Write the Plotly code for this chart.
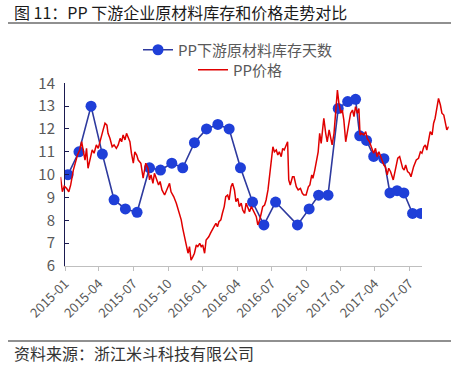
import plotly.graph_objects as go

# ---------------- data ----------------
inv_dates = ["2015-01-09", "2015-02-07", "2015-03-11", "2015-04-10", "2015-05-11", "2015-06-10",
             "2015-07-11", "2015-08-13", "2015-09-11", "2015-10-11", "2015-11-09", "2015-12-10",
             "2016-01-11", "2016-02-10", "2016-03-11", "2016-04-10", "2016-05-12", "2016-06-11",
             "2016-07-12", "2016-09-08", "2016-10-09", "2016-11-03", "2016-11-28", "2016-12-25",
             "2017-01-19", "2017-02-09", "2017-02-20", "2017-03-10", "2017-03-29", "2017-04-25",
             "2017-05-11", "2017-05-30", "2017-06-17", "2017-07-10", "2017-08-01"]
inv_days = [10.0, 11.0, 13.0, 10.9, 8.9, 8.5, 8.35, 10.3, 10.2, 10.5, 10.3, 11.4,
            12.0, 12.2, 12.0, 10.3, 8.8, 7.8, 8.8, 7.8, 8.5, 9.1, 9.1, 12.9,
            13.2, 13.3, 11.7, 11.5, 10.8, 10.7, 9.2, 9.3, 9.2, 8.3, 8.3]

price_dates = [
    "2014-12-20", "2014-12-25", "2014-12-30", "2015-01-05", "2015-01-11", "2015-01-16", "2015-01-23",
    "2015-01-29", "2015-02-03", "2015-02-09", "2015-02-14", "2015-02-18", "2015-02-23", "2015-02-27",
    "2015-03-03", "2015-03-10", "2015-03-14", "2015-03-19", "2015-03-25", "2015-03-30", "2015-04-03",
    "2015-04-08", "2015-04-12", "2015-04-17", "2015-04-22", "2015-04-25", "2015-04-30", "2015-05-06",
    "2015-05-11", "2015-05-17", "2015-05-22", "2015-05-27", "2015-05-31", "2015-06-04", "2015-06-09",
    "2015-06-13", "2015-06-17", "2015-06-22", "2015-06-26", "2015-07-01", "2015-07-05", "2015-07-10",
    "2015-07-14", "2015-07-21", "2015-07-27", "2015-08-03", "2015-08-09", "2015-08-13", "2015-08-17",
    "2015-08-22", "2015-08-26", "2015-09-01", "2015-09-06", "2015-09-10", "2015-09-15", "2015-09-22",
    "2015-09-26", "2015-10-01", "2015-10-05", "2015-10-09", "2015-10-16", "2015-10-23", "2015-10-30",
    "2015-11-05", "2015-11-09", "2015-11-14", "2015-11-18", "2015-11-23", "2015-11-27", "2015-12-01",
    "2015-12-06", "2015-12-10", "2015-12-15", "2015-12-19", "2015-12-24", "2015-12-28", "2016-01-01",
    "2016-01-06", "2016-01-10", "2016-01-17", "2016-01-22", "2016-01-28", "2016-01-31", "2016-02-05",
    "2016-02-09", "2016-02-13", "2016-02-18", "2016-02-22", "2016-02-27", "2016-03-02", "2016-03-07",
    "2016-03-11", "2016-03-16", "2016-03-20", "2016-03-25", "2016-03-29", "2016-04-03", "2016-04-07",
    "2016-04-12", "2016-04-16", "2016-04-21", "2016-04-25", "2016-04-30", "2016-05-04", "2016-05-09",
    "2016-05-13", "2016-05-17", "2016-05-22", "2016-05-26", "2016-05-31", "2016-06-04", "2016-06-08",
    "2016-06-13", "2016-06-17", "2016-06-22", "2016-06-26", "2016-06-30", "2016-07-05", "2016-07-09",
    "2016-07-14", "2016-07-18", "2016-07-22", "2016-07-27", "2016-07-31", "2016-08-04", "2016-08-09",
    "2016-08-13", "2016-08-16", "2016-08-20", "2016-08-26", "2016-08-30", "2016-09-05", "2016-09-10",
    "2016-09-16", "2016-09-21", "2016-09-25", "2016-10-01", "2016-10-07", "2016-10-11", "2016-10-16",
    "2016-10-19", "2016-10-24", "2016-10-29", "2016-11-02", "2016-11-06", "2016-11-10", "2016-11-15",
    "2016-11-17", "2016-11-22", "2016-11-26", "2016-12-01", "2016-12-05", "2016-12-09", "2016-12-14",
    "2016-12-18", "2016-12-23", "2016-12-27", "2017-01-01", "2017-01-05", "2017-01-09", "2017-01-14",
    "2017-01-18", "2017-01-23", "2017-01-27", "2017-02-01", "2017-02-05", "2017-02-09", "2017-02-14",
    "2017-02-18", "2017-02-21", "2017-02-25", "2017-03-03", "2017-03-08", "2017-03-12", "2017-03-18",
    "2017-03-24", "2017-03-29", "2017-04-03", "2017-04-07", "2017-04-12", "2017-04-16", "2017-04-20",
    "2017-04-25", "2017-04-29", "2017-05-04", "2017-05-08", "2017-05-13", "2017-05-20", "2017-05-26",
    "2017-06-01", "2017-06-06", "2017-06-09", "2017-06-14", "2017-06-18", "2017-06-22", "2017-06-27",
    "2017-07-02", "2017-07-06", "2017-07-09", "2017-07-13", "2017-07-20", "2017-07-26", "2017-07-31",
    "2017-08-04", "2017-08-09", "2017-08-13", "2017-08-17", "2017-08-22", "2017-08-26", "2017-08-31",
    "2017-09-04", "2017-09-08", "2017-09-13", "2017-09-17", "2017-09-22", "2017-09-26", "2017-10-01",
    "2017-10-05", "2017-10-09", "2017-10-14"]
price = [
    9.9, 9.25, 9.5, 9.4, 9.25, 9.55, 10.2,
    10.57, 10.86, 11.08, 11.44, 11.08, 10.64, 11.15,
    10.28, 10.79, 11.08, 10.94, 11.3, 11.15, 11.44,
    11.81, 11.96, 12.25, 12.17, 11.81, 11.59, 11.22,
    11.3, 11.15, 11.3, 11.59, 11.44, 11.74, 11.52,
    11.81, 11.66, 11.44, 10.94, 10.5, 11.0, 10.86,
    10.64, 10.5, 9.85, 10.5, 10.28, 9.77, 9.99,
    9.62, 10.06, 9.77, 9.55, 9.7, 9.33, 9.11,
    9.25, 9.47, 9.62, 9.25, 9.04, 8.75, 8.38,
    8.02, 7.65, 7.28, 6.85, 6.56, 6.85, 6.26,
    6.41, 6.56, 6.92, 6.85, 6.99, 6.85, 6.92,
    6.56, 7.14, 7.28, 7.45, 7.6, 7.72, 7.87,
    7.72, 7.94, 8.02, 8.3, 8.6, 9.04, 9.11,
    8.89, 9.47, 9.62, 9.33, 8.82, 8.96, 8.6,
    8.75, 8.45, 8.3, 8.75, 8.53, 8.38, 8.6,
    8.45, 8.3, 8.16, 7.8, 8.02, 8.3, 8.6,
    8.67, 8.89, 9.33, 9.91, 10.64, 11.22, 11.0,
    11.08, 10.86, 11.0, 10.79, 11.15, 11.08, 11.3,
    11.44, 9.77, 9.55, 9.91, 9.91, 9.47, 9.33,
    9.4, 9.18, 9.11, 9.11, 9.47, 9.55, 9.99,
    9.84, 10.2, 10.64, 11.0, 11.81, 11.37, 12.17,
    12.47, 11.81, 11.44, 11.96, 11.59, 11.3, 11.81,
    12.69, 13.7, 13.12, 12.69, 12.83, 12.4, 11.44,
    11.88, 12.25, 12.69, 12.83, 12.54, 12.98, 12.69,
    12.9, 11.74, 11.81, 11.74, 11.88, 11.59, 11.44,
    11.15, 10.94, 11.15, 10.79, 11.0, 10.79, 10.64,
    10.42, 10.35, 9.99, 10.28, 10.13, 9.77, 10.2,
    10.72, 10.79, 10.57, 10.28, 10.2, 10.42, 10.13,
    10.06, 9.91, 10.13, 10.35, 10.64, 10.72, 11.0,
    10.94, 11.22, 11.3, 11.08, 11.59, 11.88, 11.74,
    12.25, 12.47, 12.9, 13.34, 13.05, 12.69, 12.61,
    12.32, 11.96, 12.1]

tick_vals = ["2015-01-01", "2015-04-01", "2015-07-01", "2015-10-01", "2016-01-01", "2016-04-01",
             "2016-07-01", "2016-10-01", "2017-01-01", "2017-04-01", "2017-07-01"]
tick_text = ["2015-01", "2015-04", "2015-07", "2015-10", "2016-01", "2016-04",
             "2016-07", "2016-10", "2017-01", "2017-04", "2017-07"]
y_ticks = [6, 7, 8, 9, 10, 11, 12, 13, 14]

inv_name = "PP下游原材料库存天数"
price_name = "PP价格"
title_text = "图 11：PP 下游企业原材料库存和价格走势对比"
source_text = "资料来源：浙江米斗科技有限公司"

# ---------------- figure ----------------
W, H = 451, 365
FONT = "Noto Sans CJK SC"
GRAY = "#595959"

fig = go.Figure()
fig.add_trace(go.Scatter(
    x=inv_dates, y=inv_days, name=inv_name, mode="lines+markers",
    line=dict(color="#2E3A9E", width=1.6),
    marker=dict(color="#1F3FD8", size=11, line=dict(width=0)),
    xaxis="x", yaxis="y", legend="legend"))
fig.add_trace(go.Scatter(
    x=price_dates, y=price, name=price_name, mode="lines",
    line=dict(color="#E00000", width=1.5),
    xaxis="x2", yaxis="y", legend="legend2"))

fig.update_layout(
    width=W, height=H,
    margin=dict(l=0, r=0, t=0, b=0, autoexpand=False),
    paper_bgcolor="white", plot_bgcolor="rgba(0,0,0,0)",
    font=dict(family=FONT, color=GRAY),
    xaxis=dict(
        type="date", domain=[65 / W, 422 / W], anchor="y",
        range=["2015-01-01", "2017-08-04"],
        tickmode="array", tickvals=tick_vals, ticktext=tick_text,
        tickangle=-45, tickfont=dict(size=13, color=GRAY, family=FONT),
        showline=True, linecolor="#BFBFBF", linewidth=1,
        ticks="outside", ticklen=4, tickcolor="#BFBFBF",
        showgrid=False, zeroline=False, automargin=False),
    xaxis2=dict(
        type="date", domain=[60.5 / W, 448.7 / W], anchor="y",
        range=["2014-12-20", "2017-10-14"], visible=False,
        showgrid=False, zeroline=False, automargin=False),
    yaxis=dict(
        domain=[(H - 266) / H, (H - 83.3) / H], anchor="x",
        range=[6, 14], tickvals=y_ticks,
        tickfont=dict(size=15, color=GRAY, family=FONT),
        showline=True, linecolor="#1A1A50", linewidth=1,
        ticks="inside", ticklen=4, tickcolor="#1A1A50",
        ticklabelstandoff=6,
        showgrid=False, zeroline=False, automargin=False),
    legend=dict(x=138 / W, y=(H - 50) / H, xanchor="left", yanchor="middle",
                font=dict(size=15, color=GRAY, family=FONT), bgcolor="rgba(0,0,0,0)"),
    legend2=dict(x=193 / W, y=(H - 70) / H, xanchor="left", yanchor="middle",
                 font=dict(size=15, color=GRAY, family=FONT), bgcolor="rgba(0,0,0,0)"),
    showlegend=True,
)

fig.add_annotation(text=title_text, xref="paper", yref="paper",
                   x=12 / W, y=(H - 12) / H, xanchor="left", yanchor="middle",
                   showarrow=False, font=dict(size=16, color="#1A1A1A", family=FONT))
fig.add_annotation(text=source_text, xref="paper", yref="paper",
                   x=12 / W, y=(H - 353) / H, xanchor="left", yanchor="middle",
                   showarrow=False, font=dict(size=16, color="#333333", family=FONT))
fig.add_shape(type="line", xref="paper", yref="paper", x0=8 / W, x1=1, y0=(H - 23) / H, y1=(H - 23) / H,
              line=dict(color="#222222", width=1.2))
fig.add_shape(type="line", xref="paper", yref="paper", x0=8 / W, x1=1, y0=(H - 341) / H, y1=(H - 341) / H,
              line=dict(color="#222222", width=1.2))

fig.write_html(
    "out.html",
    config={"displayModeBar": False},
    post_script="document.body.style.margin='0';document.body.style.padding='0';"
                "document.body.style.overflow='hidden';",
)
